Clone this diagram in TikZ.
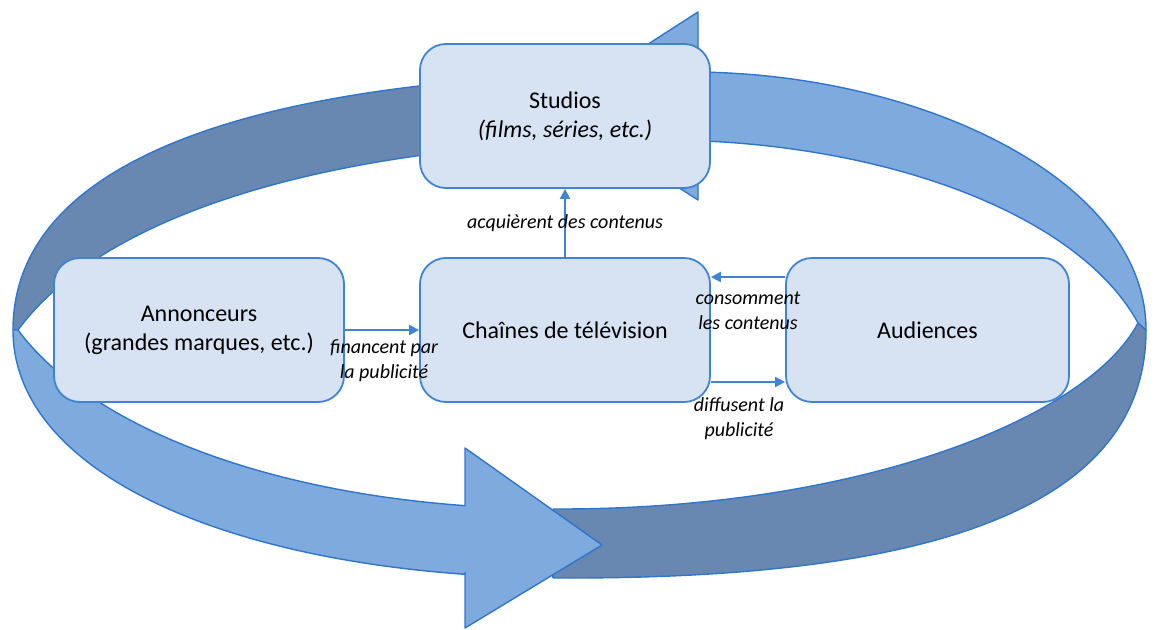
\documentclass[tikz,border=0pt]{standalone}
\usepackage{fontspec}
\setmainfont{Carlito}
\usetikzlibrary{arrows.meta, positioning}

\definecolor{bandlight}{RGB}{127,170,221}
\definecolor{banddark}{RGB}{104,136,177}
\definecolor{bandline}{RGB}{46,117,206}
\definecolor{boxfill}{RGB}{215,227,243}
\definecolor{boxline}{RGB}{62,131,214}

% the two halves of the ring (outer edge, then inner edge back)
\newcommand{\ringtop}{(13,330) .. controls (13,165) and (240,72) .. (690,72)
  .. controls (920,72) and (1146,180) .. (1146,330) -- (1138,323)
  .. controls (1078,213) and (880,140) .. (660,140)
  .. controls (360,140) and (110,205) .. (18,330) -- cycle}
\newcommand{\ringbottom}{(13,330) .. controls (13,480) and (250,578) .. (570,578)
  .. controls (900,578) and (1146,520) .. (1146,330) -- (1138,323)
  .. controls (1088,418) and (860,509) .. (560,509)
  .. controls (280,509) and (88,425) .. (18,330) -- cycle}

\tikzset{
  actor/.style={draw=boxline, fill=boxfill, line width=0.9pt, rounded corners=13pt,
    minimum width=145pt, minimum height=72pt, align=center,
    font=\fontsize{12}{14.5}\selectfont},
  flow/.style={draw=boxline, line width=1pt, -{Triangle[length=5pt,width=5pt]}},
  flowlabel/.style={align=center, font=\fontsize{10}{12.5}\selectfont\itshape},
  band/.style={draw=bandline, line width=0.7pt, line join=round}
}

\begin{document}
\begin{tikzpicture}[x=0.5pt, y=-0.5pt]
  \useasboundingbox (0,0) rectangle (1155,630);

  % Back of the ring (dark)
  \begin{scope}
    \clip (0,0) rectangle (650,330);
    \filldraw[band, fill=banddark] \ringtop;
  \end{scope}
  \begin{scope}
    \clip (553,300) rectangle (1155,630);
    \filldraw[band, fill=banddark] \ringbottom;
  \end{scope}
  \draw[band] (553,509) -- (553,578);

  % Front of the ring (light) with its arrowheads
  \begin{scope}
    \clip (698,0) rectangle (1155,340);
    \filldraw[band, fill=bandlight] \ringtop;
  \end{scope}
  \begin{scope}
    \clip (0,300) rectangle (465,630);
    \filldraw[band, fill=bandlight] \ringbottom;
  \end{scope}
  \filldraw[band, fill=bandlight] (698,72) -- (698,12) -- (552,106) -- (698,200) -- (698,140);
  \filldraw[band, fill=bandlight] (465,506) -- (465,448) -- (602,545) -- (465,628) -- (465,572);

  % Actors
  \node[actor] (studios) at (565,116) {Studios\\\textit{(films, séries, etc.)}};
  \node[actor] (annon) at (199,330) {Annonceurs\\(grandes marques, etc.)};
  \node[actor] (chaines) at (565,330) {Chaînes de télévision};
  \node[actor, minimum width=141.5pt] (aud) at (927.5,330) {Audiences};

  % Flows
  \draw[flow] (annon.east) -- (chaines.west);
  \draw[flow] (chaines.north) -- (studios.south);
  \draw[flow] ([yshift=26.5pt]aud.west) -- ([yshift=26.5pt]chaines.east);
  \draw[flow] ([yshift=-26pt]chaines.east) -- ([yshift=-26pt]aud.west);

  % Labels
  \node[flowlabel] (lblfin) at (384,361) {financent par\\la publicité};
  \node[flowlabel] (lblacq) at (565,223) {acquièrent des contenus};
  \node[flowlabel] (lblcons) at (748,311) {consomment\\les contenus};
  \node[flowlabel] (lbldiff) at (739,419) {diffusent la\\publicité};
\end{tikzpicture}
\end{document}
